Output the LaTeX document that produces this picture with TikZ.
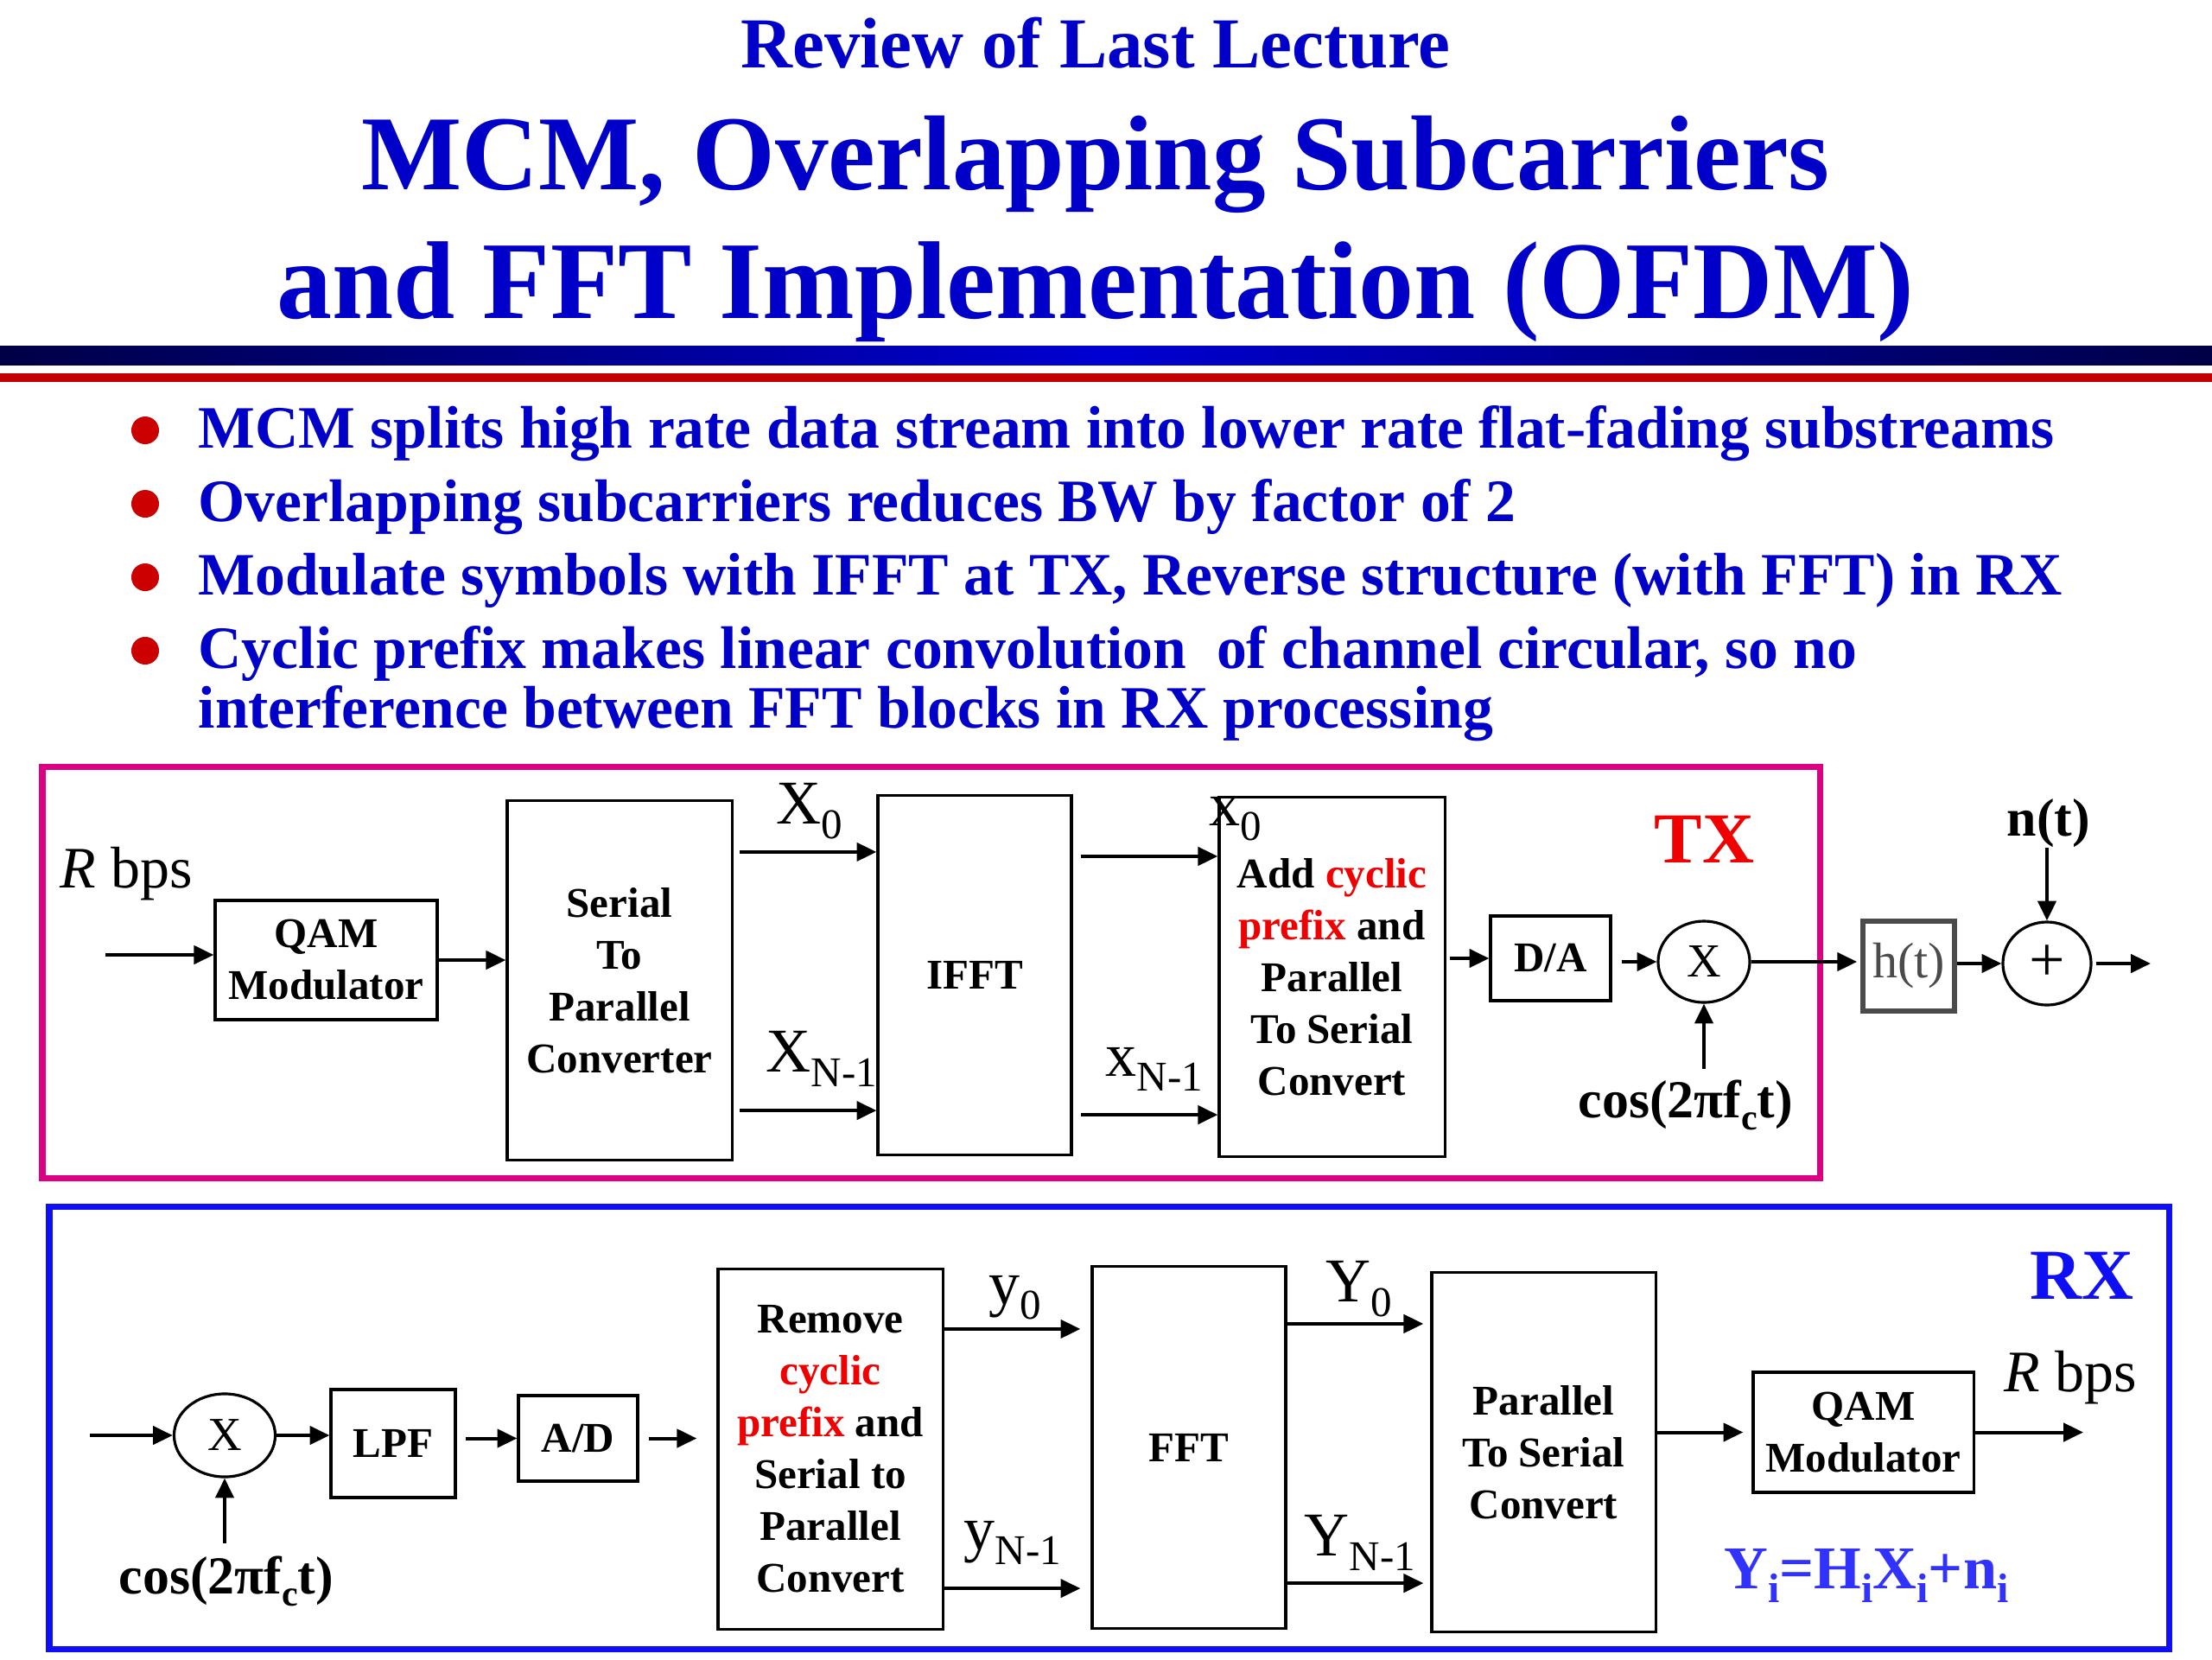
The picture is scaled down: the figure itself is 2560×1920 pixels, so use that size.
\documentclass[tikz,border=0pt]{standalone}
\usepackage{fontspec}
\setmainfont{Liberation Serif}
\usetikzlibrary{arrows.meta,shapes.geometric,calc}
\definecolor{ttl}{RGB}{0,0,200}
\definecolor{navy}{RGB}{0,0,70}
\definecolor{bblue}{RGB}{0,0,210}
\definecolor{rline}{RGB}{195,0,0}
\definecolor{bul}{RGB}{204,0,0}
\definecolor{mag}{RGB}{220,0,130}
\definecolor{rxb}{RGB}{15,15,245}
\definecolor{cpred}{RGB}{240,0,0}
\definecolor{eqb}{RGB}{50,50,255}
\definecolor{hgray}{RGB}{75,75,75}
\newcommand\lsub[1]{\raisebox{-0.24em}{\scalebox{0.68}{#1}}}
\newcommand\fpx[2]{\fontsize{#1}{#2}\selectfont}
\tikzset{
  blk/.style={draw, line width=0.9pt, inner sep=0pt, align=center, font=\fpx{13.94pt}{17.07pt}\bfseries},
  circ/.style={draw, ellipse, line width=0.9pt, inner sep=0pt, font=\fpx{15.6pt}{18pt}},
  arr/.style={line width=1.15pt, -{Triangle[length=6.5pt,width=6pt]}},
  lbl/.style={anchor=base west, inner sep=0pt, font=\fpx{20.5pt}{24pt}},
  blbl/.style={anchor=base west, inner sep=0pt, font=\fpx{17.6pt}{20pt}\bfseries},
  ttlf/.style={anchor=base, inner sep=0pt, text=ttl},
  bult/.style={anchor=base west, inner sep=0pt, text=ttl, font=\fpx{19.8pt}{24pt}\bfseries}
}
\begin{document}
\begin{tikzpicture}[x=0.01cm, y=-0.01cm]
\useasboundingbox (0,0) rectangle (2560,1920);
\fill[white] (0,0) rectangle (2560,1920);
% header
\node[ttlf, font=\fpx{23.6pt}{28pt}\bfseries] (t0) at (1268,78) {Review of Last Lecture};
\node[ttlf, font=\fpx{35pt}{40pt}\bfseries] (t1) at (1268,219) {MCM, Overlapping Subcarriers};
\node[ttlf, font=\fpx{36.4pt}{40pt}\bfseries] (t2) at (1268,368) {and FFT Implementation (OFDM)};
\shade[left color=navy, right color=navy, middle color=bblue] (0,400) rectangle (2560,422);
\fill[rline] (0,432) rectangle (2560,442);
% bullets
\foreach \yy in {498,583,668,753} \fill[bul] (168,\yy) circle (0.16cm);
\node[bult] (b1) at (229,518) {MCM splits high rate data stream into lower rate flat-fading substreams};
\node[bult] (b2) at (229,603) {Overlapping subcarriers reduces BW by factor of 2};
\node[bult] (b3) at (229,688) {Modulate symbols with IFFT at TX, Reverse structure (with FFT) in RX};
\node[bult] (b4) at (229,773) {Cyclic prefix makes linear convolution\ \ of channel circular, so no};
\node[bult] (b5) at (229,842) {interference between FFT blocks in RX processing};
% frames
\draw[mag, line width=2pt] (49,887) rectangle (2106,1363);
\draw[rxb, line width=2pt] (57,1396) rectangle (2510,1908);
% TX blocks
\node[blk, minimum width=2.57cm, minimum height=1.38cm] (qam) at (377.5,1111) {QAM\\Modulator};
\node[blk, minimum width=2.60cm, minimum height=4.15cm] (sp) at (717,1134.5) {Serial\\To\\Parallel\\Converter};
\node[blk, minimum width=2.24cm, minimum height=4.15cm] (ifft) at (1128,1128.5) {IFFT};
\node[blk, minimum width=2.61cm, minimum height=4.15cm] (acp) at (1541.5,1130.5) {Add \textcolor{cpred}{cyclic}\\\textcolor{cpred}{prefix} and\\Parallel\\To Serial\\Convert};
\node[blk, minimum width=1.39cm, minimum height=0.98cm] (da) at (1794.5,1109) {D/A};
\node[circ, minimum width=1.06cm, minimum height=0.94cm] (mul) at (1972,1113) {X};
\node[draw=hgray, line width=1.6pt, inner sep=0pt, minimum width=1.06cm, minimum height=1.04cm, text=hgray, font=\fpx{16.5pt}{18pt}] (h) at (2209,1118) {h(t)};
\node[circ, minimum width=1.02cm, minimum height=0.96cm, font=\fpx{21pt}{22pt}] (plus) at (2369,1115) {+};
% TX labels
\node[lbl, font=\fpx{19.35pt}{22pt}] (rb) at (69,1027) {\itshape R\upshape\ bps};
\node[lbl] (lx0) at (898,953) {X\lsub{0}};
\node[lbl] (lxn) at (886,1240) {X\lsub{N-1}};
\node[lbl] (lsx0) at (1399,955) {x\lsub{0}};
\node[lbl] (lsxn) at (1279,1245) {x\lsub{N-1}};
\node[blbl, text=cpred, font=\fpx{23.6pt}{26pt}\bfseries] (tx) at (1914,998) {TX};
\node[blbl] (nt) at (2322,967) {n(t)};
\node[blbl] (cos) at (1826,1293) {cos(2πf\lsub{c}t)};
% TX connectors
\coordinate (txin) at (122,1105);
\coordinate (tout) at (2489,1115);
\draw[arr] (txin) -- (txin -| qam.west);
\draw[arr] (qam.east) -- (qam.east -| sp.west);
\coordinate (s0) at ([yshift=1.485cm]sp.east);
\coordinate (s1) at ([yshift=-1.505cm]sp.east);
\draw[arr] ([xshift=0.07cm]s0) -- (s0 -| ifft.west);
\draw[arr] ([xshift=0.07cm]s1) -- (s1 -| ifft.west);
\coordinate (i0) at ([yshift=1.375cm]ifft.east);
\coordinate (i1) at ([yshift=-1.615cm]ifft.east);
\draw[arr] ([xshift=0.09cm]i0) -- (i0 -| acp.west);
\draw[arr] ([xshift=0.09cm]i1) -- (i1 -| acp.west);
\draw[arr, shorten <=0.04cm] (da.west -| acp.east) -- (da.west);
\draw[arr, shorten <=0.11cm] (mul.west -| da.east) -- (mul.west);
\draw[arr, shorten >=0.04cm] (mul.east) -- (mul.east -| h.west);
\draw[arr] (h.east |- plus.west) -- (plus.west);
\draw[arr, shorten <=0.04cm] (plus.east) -- (tout);
\draw[arr] (plus.north |- nt.south) -- (plus.north);
\draw[arr, shorten <=0.12cm] (mul.south |- cos.north) -- (mul.south);
% RX blocks
\node[circ, minimum width=1.17cm, minimum height=0.96cm] (rmul) at (260,1661) {X};
\node[blk, minimum width=1.44cm, minimum height=1.25cm] (lpf) at (455,1670.5) {LPF};
\node[blk, minimum width=1.38cm, minimum height=0.99cm] (ad) at (669,1664.5) {A/D};
\node[blk, minimum width=2.60cm, minimum height=4.16cm] (rem) at (961,1677) {Remove\\\textcolor{cpred}{cyclic}\\\textcolor{cpred}{prefix} and\\Serial to\\Parallel\\Convert};
\node[blk, minimum width=2.24cm, minimum height=4.18cm] (fft) at (1376,1675) {FFT};
\node[blk, minimum width=2.59cm, minimum height=4.15cm] (ps) at (1786.5,1680.5) {Parallel\\To Serial\\Convert};
\node[blk, minimum width=2.55cm, minimum height=1.39cm] (qam2) at (2156.5,1657.5) {QAM\\Modulator};
% RX labels
\node[lbl] (ly0) at (1144,1509) {y\lsub{0}};
\node[lbl] (lyn) at (1115,1793) {y\lsub{N-1}};
\node[lbl] (lY0) at (1534,1506) {Y\lsub{0}};
\node[lbl] (lYn) at (1509,1800) {Y\lsub{N-1}};
\node[blbl, text=rxb, font=\fpx{23.6pt}{26pt}\bfseries] (rx) at (2349,1503) {RX};
\node[lbl, font=\fpx{19.35pt}{22pt}] (rb2) at (2319,1610) {\itshape R\upshape\ bps};
\node[blbl] (rcos) at (137,1844) {cos(2πf\lsub{c}t)};
\node[blbl, text=eqb, font=\fpx{20pt}{22pt}\bfseries] (eq) at (1995,1838) {Y\lsub{i}=H\lsub{i}X\lsub{i}+n\lsub{i}};
% RX connectors
\coordinate (rin) at (104,1661);
\coordinate (rout) at (2411,1657.5);
\draw[arr] (rin) -- (rmul.west);
\draw[arr] (rmul.east) -- (rmul.east -| lpf.west);
\draw[arr, shorten <=0.1cm] (ad.west -| lpf.east) -- (ad.west);
\draw[arr, shorten <=0.11cm, shorten >=0.23cm] (ad.east) -- (ad.east -| rem.west);
\coordinate (r0) at ([yshift=1.39cm]rem.east);
\coordinate (r1) at ([yshift=-1.61cm]rem.east);
\draw[arr, shorten >=0.12cm] (r0) -- (r0 -| fft.west);
\draw[arr, shorten >=0.12cm] (r1) -- (r1 -| fft.west);
\coordinate (f0) at ([yshift=1.43cm]fft.east);
\coordinate (f1) at ([yshift=-1.57cm]fft.east);
\draw[arr, shorten >=0.08cm] (f0) -- (f0 -| ps.west);
\draw[arr, shorten >=0.08cm] (f1) -- (f1 -| ps.west);
\draw[arr, shorten >=0.1cm] (qam2.west -| ps.east) -- (qam2.west);
\draw[arr] (qam2.east) -- (rout);
\draw[arr, shorten <=0.14cm] (rmul.south |- rcos.north) -- (rmul.south);
\end{tikzpicture}
\end{document}
